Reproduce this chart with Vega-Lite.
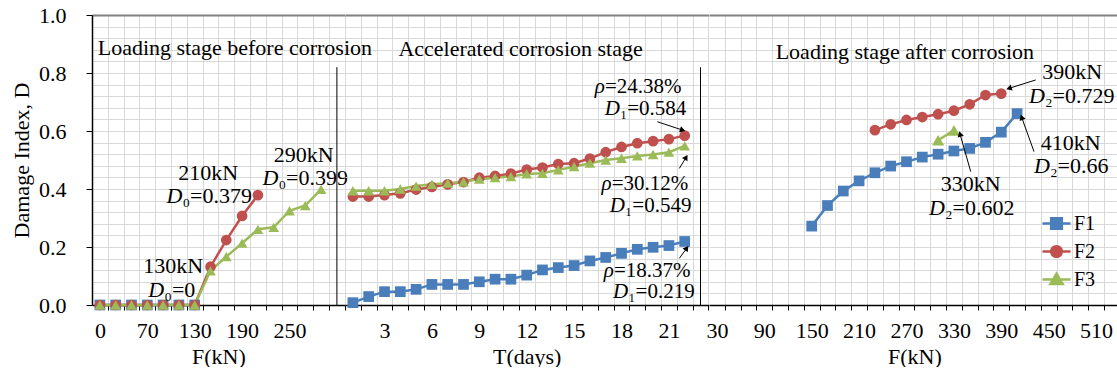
{
  "$schema": "https://vega.github.io/schema/vega-lite/v6.json",
  "padding": {"left": 10, "top": 4, "right": 0, "bottom": 0},
  "bounds": "flush",
  "spacing": 0,
  "config": {
    "font": "Liberation Serif",
    "view": {"stroke": null},
    "axis": {
      "labelFont": "Liberation Serif", "labelFontSize": 22, "labelColor": "#000",
      "titleFont": "Liberation Serif", "titleFontSize": 22, "titleFontWeight": "normal", "titleColor": "#000",
      "domainColor": "#000", "domainWidth": 1.5, "tickColor": "#000", "tickWidth": 1,
      "gridColor": "#d9d9d9", "gridWidth": 1
    },
    "text": {"font": "Liberation Serif", "fontSize": 22, "color": "#000"}
  },
  "resolve": {
    "scale": {"color": "independent", "shape": "independent", "size": "independent"},
    "legend": {"color": "independent", "shape": "independent", "size": "independent"}
  },
  "datasets": {
    "pre": [
      {"series": "F1", "F": 0, "D": 0}, {"series": "F1", "F": 30, "D": 0}, {"series": "F1", "F": 50, "D": 0}, {"series": "F1", "F": 70, "D": 0},
      {"series": "F1", "F": 90, "D": 0}, {"series": "F1", "F": 110, "D": 0}, {"series": "F1", "F": 130, "D": 0},
      {"series": "F2", "F": 0, "D": 0}, {"series": "F2", "F": 30, "D": 0}, {"series": "F2", "F": 50, "D": 0}, {"series": "F2", "F": 70, "D": 0},
      {"series": "F2", "F": 90, "D": 0}, {"series": "F2", "F": 110, "D": 0}, {"series": "F2", "F": 130, "D": 0},
      {"series": "F2", "F": 150, "D": 0.132}, {"series": "F2", "F": 170, "D": 0.224}, {"series": "F2", "F": 190, "D": 0.307}, {"series": "F2", "F": 210, "D": 0.379},
      {"series": "F3", "F": 0, "D": 0}, {"series": "F3", "F": 30, "D": 0}, {"series": "F3", "F": 50, "D": 0}, {"series": "F3", "F": 70, "D": 0},
      {"series": "F3", "F": 90, "D": 0}, {"series": "F3", "F": 110, "D": 0}, {"series": "F3", "F": 130, "D": 0},
      {"series": "F3", "F": 150, "D": 0.118}, {"series": "F3", "F": 170, "D": 0.167}, {"series": "F3", "F": 190, "D": 0.213}, {"series": "F3", "F": 210, "D": 0.261},
      {"series": "F3", "F": 230, "D": 0.268}, {"series": "F3", "F": 250, "D": 0.325}, {"series": "F3", "F": 270, "D": 0.343}, {"series": "F3", "F": 290, "D": 0.399}
    ],
    "corr": [
      {"series": "F1", "T": 1, "D": 0.008}, {"series": "F1", "T": 2, "D": 0.029}, {"series": "F1", "T": 3, "D": 0.046}, {"series": "F1", "T": 4, "D": 0.046},
      {"series": "F1", "T": 5, "D": 0.054}, {"series": "F1", "T": 6, "D": 0.071}, {"series": "F1", "T": 7, "D": 0.071}, {"series": "F1", "T": 8, "D": 0.071},
      {"series": "F1", "T": 9, "D": 0.080}, {"series": "F1", "T": 10, "D": 0.089}, {"series": "F1", "T": 11, "D": 0.089}, {"series": "F1", "T": 12, "D": 0.103},
      {"series": "F1", "T": 13, "D": 0.121}, {"series": "F1", "T": 14, "D": 0.129}, {"series": "F1", "T": 15, "D": 0.136}, {"series": "F1", "T": 16, "D": 0.152},
      {"series": "F1", "T": 17, "D": 0.164}, {"series": "F1", "T": 18, "D": 0.178}, {"series": "F1", "T": 19, "D": 0.192}, {"series": "F1", "T": 20, "D": 0.199},
      {"series": "F1", "T": 21, "D": 0.205}, {"series": "F1", "T": 22, "D": 0.219},
      {"series": "F2", "T": 1, "D": 0.374}, {"series": "F2", "T": 2, "D": 0.374}, {"series": "F2", "T": 3, "D": 0.379}, {"series": "F2", "T": 4, "D": 0.385},
      {"series": "F2", "T": 5, "D": 0.398}, {"series": "F2", "T": 6, "D": 0.407}, {"series": "F2", "T": 7, "D": 0.416}, {"series": "F2", "T": 8, "D": 0.424},
      {"series": "F2", "T": 9, "D": 0.439}, {"series": "F2", "T": 10, "D": 0.445}, {"series": "F2", "T": 11, "D": 0.453}, {"series": "F2", "T": 12, "D": 0.467},
      {"series": "F2", "T": 13, "D": 0.474}, {"series": "F2", "T": 14, "D": 0.486}, {"series": "F2", "T": 15, "D": 0.489}, {"series": "F2", "T": 16, "D": 0.505},
      {"series": "F2", "T": 17, "D": 0.527}, {"series": "F2", "T": 18, "D": 0.545}, {"series": "F2", "T": 19, "D": 0.558}, {"series": "F2", "T": 20, "D": 0.565},
      {"series": "F2", "T": 21, "D": 0.572}, {"series": "F2", "T": 22, "D": 0.584},
      {"series": "F3", "T": 1, "D": 0.394}, {"series": "F3", "T": 2, "D": 0.394}, {"series": "F3", "T": 3, "D": 0.394}, {"series": "F3", "T": 4, "D": 0.400},
      {"series": "F3", "T": 5, "D": 0.410}, {"series": "F3", "T": 6, "D": 0.416}, {"series": "F3", "T": 7, "D": 0.420}, {"series": "F3", "T": 8, "D": 0.425},
      {"series": "F3", "T": 9, "D": 0.434}, {"series": "F3", "T": 10, "D": 0.439}, {"series": "F3", "T": 11, "D": 0.443}, {"series": "F3", "T": 12, "D": 0.452},
      {"series": "F3", "T": 13, "D": 0.454}, {"series": "F3", "T": 14, "D": 0.466}, {"series": "F3", "T": 15, "D": 0.477}, {"series": "F3", "T": 16, "D": 0.489},
      {"series": "F3", "T": 17, "D": 0.500}, {"series": "F3", "T": 18, "D": 0.506}, {"series": "F3", "T": 19, "D": 0.514}, {"series": "F3", "T": 20, "D": 0.519},
      {"series": "F3", "T": 21, "D": 0.527}, {"series": "F3", "T": 22, "D": 0.549}
    ],
    "post": [
      {"series": "F1", "F": 150, "D": 0.272}, {"series": "F1", "F": 170, "D": 0.343}, {"series": "F1", "F": 190, "D": 0.393}, {"series": "F1", "F": 210, "D": 0.428},
      {"series": "F1", "F": 230, "D": 0.456}, {"series": "F1", "F": 250, "D": 0.479}, {"series": "F1", "F": 270, "D": 0.494}, {"series": "F1", "F": 290, "D": 0.510},
      {"series": "F1", "F": 310, "D": 0.520}, {"series": "F1", "F": 330, "D": 0.531}, {"series": "F1", "F": 350, "D": 0.540}, {"series": "F1", "F": 370, "D": 0.561},
      {"series": "F1", "F": 390, "D": 0.596}, {"series": "F1", "F": 410, "D": 0.66},
      {"series": "F2", "F": 230, "D": 0.603}, {"series": "F2", "F": 250, "D": 0.623}, {"series": "F2", "F": 270, "D": 0.638}, {"series": "F2", "F": 290, "D": 0.648},
      {"series": "F2", "F": 310, "D": 0.658}, {"series": "F2", "F": 330, "D": 0.670}, {"series": "F2", "F": 350, "D": 0.692}, {"series": "F2", "F": 370, "D": 0.724},
      {"series": "F2", "F": 390, "D": 0.729},
      {"series": "F3", "F": 310, "D": 0.568}, {"series": "F3", "F": 330, "D": 0.602}
    ],
    "notes1": [
      {"F": 64.8, "D": 0.112, "lead": "", "rest": "130kN"},
      {"F": 91.4, "D": 0.029, "lead": "D", "rest": "₀=0"},
      {"F": 109.2, "D": 0.431, "lead": "", "rest": "210kN"},
      {"F": 114.4, "D": 0.351, "lead": "D", "rest": "₀=0.379"},
      {"F": 230.2, "D": 0.494, "lead": "", "rest": "290kN"},
      {"F": 236, "D": 0.414, "lead": "D", "rest": "₀=0.399"}
    ],
    "titles2": [
      {"T": -15.15, "D": 0.862, "rest": "Loading stage before corrosion"},
      {"T": 3.88, "D": 0.860, "rest": "Accelerated corrosion stage"}
    ],
    "notes2": [
      {"T": 16.95, "D": 0.730, "lead": "ρ", "rest": " =24.38%"},
      {"T": 17.9, "D": 0.655, "lead": "D", "rest": "₁=0.584"},
      {"T": 17.38, "D": 0.397, "lead": "ρ", "rest": " =30.12%"},
      {"T": 18.22, "D": 0.322, "lead": "D", "rest": "₁=0.549"},
      {"T": 17.52, "D": 0.098, "lead": "ρ", "rest": " =18.37%"},
      {"T": 18.43, "D": 0.023, "lead": "D", "rest": "₁=0.219"}
    ],
    "notes3": [
      {"F": 104.4, "D": 0.848, "lead": "", "rest": "Loading stage after corrosion"},
      {"F": 441.9, "D": 0.778, "lead": "", "rest": "390kN"},
      {"F": 445.2, "D": 0.696, "lead": "D", "rest": "₂=0.729"},
      {"F": 439.9, "D": 0.534, "lead": "", "rest": "410kN"},
      {"F": 451.5, "D": 0.454, "lead": "D", "rest": "₂=0.66"},
      {"F": 313.3, "D": 0.393, "lead": "", "rest": "330kN"},
      {"F": 318.6, "D": 0.310, "lead": "D", "rest": "₂=0.602"}
    ],
    "arrows2": [
      {"T": 21.87, "D": 0.603, "Tt": 20.27, "Dt": 0.632, "angle": 108},
      {"T": 22.09, "D": 0.509, "Tt": 21.66, "Dt": 0.471, "angle": 31},
      {"T": 22.13, "D": 0.196, "Tt": 21.66, "Dt": 0.161, "angle": 36}
    ],
    "arrows3": [
      {"F": 399.7, "D": 0.747, "Ft": 433.5, "Dt": 0.776, "angle": 253},
      {"F": 415.8, "D": 0.647, "Ft": 431.4, "Dt": 0.529, "angle": 340},
      {"F": 337.7, "D": 0.590, "Ft": 351.3, "Dt": 0.460, "angle": 344}
    ]
  },
  "hconcat": [
    {
      "width": 252.8, "height": 290,
      "encoding": {
        "x": {
          "field": "F", "type": "quantitative",
          "scale": {"domain": [-15, 30, 320], "range": [0, 23.7, 252.8], "nice": false, "zero": false},
          "axis": {
            "title": "F(kN)",
            "values": [0, 15, 30, 40, 50, 60, 70, 80, 90, 100, 110, 120, 130, 140, 150, 160, 170, 180, 190, 200, 210, 220, 230, 240, 250, 260, 270, 280, 290, 300, 310, 320],
            "labelExpr": "datum.value == 0 || (datum.value >= 70 && datum.value <= 250 && (datum.value - 10) % 60 == 0) ? format(datum.value, 'd') : ''",
            "labelOverlap": false, "labelFlush": false, "grid": true,
            "gridOpacity": {"condition": {"test": "datum.value == 15 || (datum.value % 20 == 0 && datum.value >= 40)", "value": 1}, "value": 0},
            "tickOpacity": {"condition": {"test": "datum.value == 15 || (datum.value % 20 == 0 && datum.value >= 40)", "value": 1}, "value": 0},
            "tickSize": 5, "labelPadding": 10, "titlePadding": 5
          }
        },
        "y": {
          "field": "D", "type": "quantitative",
          "scale": {"domain": [0, 1], "nice": false},
          "axis": {
            "title": "Damage Index, D",
            "values": [0, 0.04, 0.08, 0.12, 0.16, 0.2, 0.24, 0.28, 0.32, 0.36, 0.4, 0.44, 0.48, 0.52, 0.56, 0.6, 0.64, 0.68, 0.72, 0.76, 0.8, 0.84, 0.88, 0.92, 0.96, 1],
            "labelExpr": "abs(datum.value*5 - round(datum.value*5)) < 0.001 ? format(datum.value, '.1f') : ''",
            "labelOverlap": false, "labelFlush": false, "grid": true,
            "tickOpacity": {"condition": {"test": "abs(datum.value*5 - round(datum.value*5)) < 0.001", "value": 1}, "value": 0},
            "gridColor": {"condition": {"test": "datum.value > 0.99", "value": "#808080"}, "value": "#d9d9d9"},
            "gridWidth": {"condition": {"test": "datum.value > 0.99", "value": 2}, "value": 1},
            "tickSize": 6, "labelPadding": 20, "titlePadding": 5
          }
        }
      },
      "layer": [
        {
          "data": {"name": "pre"},
          "mark": {"type": "line", "strokeWidth": 2.5},
          "encoding": {"color": {"field": "series", "type": "nominal", "scale": {"domain": ["F1", "F2", "F3"], "range": ["#4A7EBB", "#C0504D", "#9BBB59"]}, "legend": null}}
        },
        {
          "data": {"name": "pre"},
          "mark": {"type": "point", "filled": true, "opacity": 1, "strokeWidth": 0},
          "encoding": {
            "color": {"field": "series", "type": "nominal", "scale": {"domain": ["F1", "F2", "F3"], "range": ["#4A7EBB", "#C0504D", "#9BBB59"]}, "legend": null},
            "shape": {"field": "series", "type": "nominal", "scale": {"domain": ["F1", "F2", "F3"], "range": ["square", "circle", "triangle-up"]}, "legend": null},
            "size": {"field": "series", "type": "ordinal", "scale": {"domain": ["F1", "F2", "F3"], "range": [115, 115, 150]}, "legend": null}
          }
        },
        {
          "data": {"values": [{"F": 310, "D": 0, "Dt": 0.82}]},
          "mark": {"type": "rule", "color": "#000", "strokeWidth": 1},
          "encoding": {"y2": {"field": "Dt"}}
        },
        {
          "data": {"name": "notes1"},
          "mark": {"type": "text", "align": "right", "baseline": "alphabetic", "fontStyle": "italic"},
          "encoding": {"text": {"field": "lead"}}
        },
        {
          "data": {"name": "notes1"},
          "mark": {"type": "text", "align": "left", "baseline": "alphabetic"},
          "encoding": {"text": {"field": "rest"}}
        }
      ]
    },
    {
      "width": 363.4, "height": 290,
      "encoding": {
        "x": {
          "field": "T", "type": "quantitative",
          "scale": {"domain": [0.5, 23.5], "nice": false, "zero": false},
          "axis": {
            "title": "T(days)",
            "values": [1, 1.5, 2, 2.5, 3, 3.5, 4, 4.5, 5, 5.5, 6, 6.5, 7, 7.5, 8, 8.5, 9, 9.5, 10, 10.5, 11, 11.5, 12, 12.5, 13, 13.5, 14, 14.5, 15, 15.5, 16, 16.5, 17, 17.5, 18, 18.5, 19, 19.5, 20, 20.5, 21, 21.5, 22, 22.5, 23, 23.5],
            "labelExpr": "datum.value % 3 == 0 && datum.value <= 21 ? format(datum.value, 'd') : ''",
            "labelOverlap": false, "labelFlush": false, "grid": true,
            "gridOpacity": {"condition": {"test": "datum.value % 1 == 0.5", "value": 1}, "value": 0},
            "tickOpacity": {"condition": {"test": "datum.value % 1 == 0.5", "value": 1}, "value": 0},
            "tickSize": 5, "labelPadding": 10, "titlePadding": 5
          }
        },
        "y": {
          "field": "D", "type": "quantitative",
          "scale": {"domain": [0, 1], "nice": false},
          "axis": {
            "title": null, "labels": false, "ticks": false, "domain": false,
            "values": [0, 0.04, 0.08, 0.12, 0.16, 0.2, 0.24, 0.28, 0.32, 0.36, 0.4, 0.44, 0.48, 0.52, 0.56, 0.6, 0.64, 0.68, 0.72, 0.76, 0.8, 0.84, 0.88, 0.92, 0.96, 1],
            "grid": true,
            "gridColor": {"condition": {"test": "datum.value > 0.99", "value": "#808080"}, "value": "#d9d9d9"},
            "gridWidth": {"condition": {"test": "datum.value > 0.99", "value": 2}, "value": 1}
          }
        }
      },
      "layer": [
        {
          "data": {"name": "corr"},
          "mark": {"type": "line", "strokeWidth": 2.5},
          "encoding": {"color": {"field": "series", "type": "nominal", "scale": {"domain": ["F1", "F2", "F3"], "range": ["#4A7EBB", "#C0504D", "#9BBB59"]}, "legend": null}}
        },
        {
          "data": {"name": "corr"},
          "mark": {"type": "point", "filled": true, "opacity": 1, "strokeWidth": 0},
          "encoding": {
            "color": {"field": "series", "type": "nominal", "scale": {"domain": ["F1", "F2", "F3"], "range": ["#4A7EBB", "#C0504D", "#9BBB59"]}, "legend": null},
            "shape": {"field": "series", "type": "nominal", "scale": {"domain": ["F1", "F2", "F3"], "range": ["square", "circle", "triangle-up"]}, "legend": null},
            "size": {"field": "series", "type": "ordinal", "scale": {"domain": ["F1", "F2", "F3"], "range": [115, 115, 150]}, "legend": null}
          }
        },
        {
          "data": {"values": [{"T": 23, "D": 0, "Dt": 0.82}]},
          "mark": {"type": "rule", "color": "#000", "strokeWidth": 1},
          "encoding": {"y2": {"field": "Dt"}}
        },
        {
          "data": {"name": "arrows2"},
          "mark": {"type": "rule", "color": "#000", "strokeWidth": 1},
          "encoding": {"x2": {"field": "Tt"}, "y2": {"field": "Dt"}}
        },
        {
          "data": {"name": "arrows2"},
          "mark": {"type": "point", "shape": "triangle-up", "filled": true, "color": "#000", "opacity": 1, "size": 40, "strokeWidth": 0},
          "encoding": {"angle": {"field": "angle", "type": "quantitative", "scale": null}}
        },
        {
          "data": {"name": "titles2"},
          "mark": {"type": "text", "align": "left", "baseline": "alphabetic"},
          "encoding": {"text": {"field": "rest"}}
        },
        {
          "data": {"name": "notes2"},
          "mark": {"type": "text", "align": "right", "baseline": "alphabetic", "fontStyle": "italic", "fontSize": 21},
          "encoding": {"text": {"field": "lead"}}
        },
        {
          "data": {"name": "notes2"},
          "mark": {"type": "text", "align": "left", "baseline": "alphabetic", "fontSize": 21},
          "encoding": {"text": {"field": "rest"}}
        }
      ]
    },
    {
      "width": 410.8, "height": 290,
      "encoding": {
        "x": {
          "field": "F", "type": "quantitative",
          "scale": {"domain": [20, 540], "nice": false, "zero": false},
          "axis": {
            "title": "F(kN)",
            "values": [30, 40, 50, 60, 70, 80, 90, 100, 110, 120, 130, 140, 150, 160, 170, 180, 190, 200, 210, 220, 230, 240, 250, 260, 270, 280, 290, 300, 310, 320, 330, 340, 350, 360, 370, 380, 390, 400, 410, 420, 430, 440, 450, 460, 470, 480, 490, 500, 510, 520, 530, 540],
            "labelExpr": "datum.value % 60 == 30 && datum.value <= 510 ? format(datum.value, 'd') : ''",
            "labelOverlap": false, "labelFlush": false, "grid": true,
            "gridOpacity": {"condition": {"test": "datum.value % 20 == 0", "value": 1}, "value": 0},
            "tickOpacity": {"condition": {"test": "datum.value % 20 == 0", "value": 1}, "value": 0},
            "tickSize": 5, "labelPadding": 10, "titlePadding": 5
          }
        },
        "y": {
          "field": "D", "type": "quantitative",
          "scale": {"domain": [0, 1], "nice": false},
          "axis": {
            "title": null, "labels": false, "ticks": false, "domain": false,
            "values": [0, 0.04, 0.08, 0.12, 0.16, 0.2, 0.24, 0.28, 0.32, 0.36, 0.4, 0.44, 0.48, 0.52, 0.56, 0.6, 0.64, 0.68, 0.72, 0.76, 0.8, 0.84, 0.88, 0.92, 0.96, 1],
            "grid": true,
            "gridColor": {"condition": {"test": "datum.value > 0.99", "value": "#808080"}, "value": "#d9d9d9"},
            "gridWidth": {"condition": {"test": "datum.value > 0.99", "value": 2}, "value": 1}
          }
        }
      },
      "layer": [
        {
          "data": {"name": "post"},
          "mark": {"type": "line", "strokeWidth": 2.5},
          "encoding": {"color": {
            "field": "series", "type": "nominal",
            "scale": {"domain": ["F1", "F2", "F3"], "range": ["#4A7EBB", "#C0504D", "#9BBB59"]},
            "legend": {
              "title": null, "orient": "none", "legendX": 332, "legendY": 193, "padding": 0,
              "labelFont": "Liberation Serif", "labelFontSize": 20, "labelColor": "#000", "labelOffset": 2,
              "rowPadding": 2, "symbolSize": 784, "symbolStrokeWidth": 2.5, "symbolOpacity": 1,
              "encode": {"symbols": {"update": {
                "shape": {"signal": "datum.value === 'F1' ? 'M-1,0H1M-0.38,-0.38H0.38V0.38H-0.38Z' : datum.value === 'F2' ? 'M-1,0H1M0.38,0A0.38,0.38,0,1,1,-0.38,0A0.38,0.38,0,1,1,0.38,0Z' : 'M-1,0H1M0,-0.42L0.44,0.32H-0.44Z'"},
                "fill": {"signal": "datum.value === 'F1' ? '#4A7EBB' : datum.value === 'F2' ? '#C0504D' : '#9BBB59'"},
                "stroke": {"signal": "datum.value === 'F1' ? '#4A7EBB' : datum.value === 'F2' ? '#C0504D' : '#9BBB59'"},
                "strokeWidth": {"value": 2.5},
                "opacity": {"value": 1},
                "size": {"value": 784}
              }}}
            }
          }}
        },
        {
          "data": {"name": "post"},
          "transform": [{"filter": "datum.series === 'F1'"}],
          "mark": {"type": "point", "shape": "square", "filled": true, "color": "#4A7EBB", "opacity": 1, "size": 115, "strokeWidth": 0}
        },
        {
          "data": {"name": "post"},
          "transform": [{"filter": "datum.series === 'F2'"}],
          "mark": {"type": "point", "shape": "circle", "filled": true, "color": "#C0504D", "opacity": 1, "size": 115, "strokeWidth": 0}
        },
        {
          "data": {"name": "post"},
          "transform": [{"filter": "datum.series === 'F3'"}],
          "mark": {"type": "point", "shape": "triangle-up", "filled": true, "color": "#9BBB59", "opacity": 1, "size": 150, "strokeWidth": 0}
        },
        {
          "data": {"name": "arrows3"},
          "mark": {"type": "rule", "color": "#000", "strokeWidth": 1},
          "encoding": {"x2": {"field": "Ft"}, "y2": {"field": "Dt"}}
        },
        {
          "data": {"name": "arrows3"},
          "mark": {"type": "point", "shape": "triangle-up", "filled": true, "color": "#000", "opacity": 1, "size": 40, "strokeWidth": 0},
          "encoding": {"angle": {"field": "angle", "type": "quantitative", "scale": null}}
        },
        {
          "data": {"name": "notes3"},
          "mark": {"type": "text", "align": "right", "baseline": "alphabetic", "fontStyle": "italic"},
          "encoding": {"text": {"field": "lead"}}
        },
        {
          "data": {"name": "notes3"},
          "mark": {"type": "text", "align": "left", "baseline": "alphabetic"},
          "encoding": {"text": {"field": "rest"}}
        }
      ]
    }
  ]
}
